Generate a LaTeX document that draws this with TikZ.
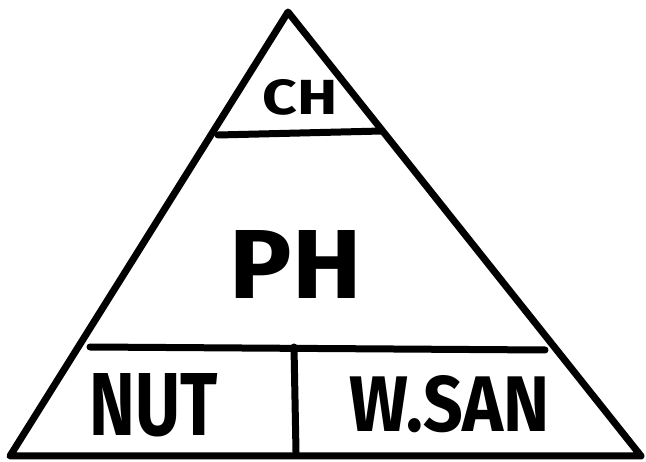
\documentclass[tikz,border=0pt]{standalone}
\usepackage{fontspec}
\setmainfont{Fira Sans}
\begin{document}
\begin{tikzpicture}[x=1pt,y=-1pt,
  stroke/.style={line width=7pt,line cap=round,line join=round},
  lbl/.style={inner sep=0pt,font=\bfseries}]
\useasboundingbox (0,0) rectangle (646,462);
\coordinate (apex) at (288,12);
\coordinate (bl) at (10,456);
\coordinate (br) at (641,456);
\coordinate (tl) at (218,135);
\coordinate (tr) at (382,131);
\coordinate (ml) at (90,347);
\coordinate (mr) at (545,350);
\coordinate (mt) at (294,347);
\coordinate (mb) at (296,452);
\draw[stroke] (apex) -- (bl) -- (br) -- cycle;
\draw[stroke] (tl) -- (tr);
\draw[stroke] (ml) -- (mr);
\draw[stroke] (mt) -- (mb);
\node[lbl] (ch) at (300,97) {\resizebox{75pt}{35pt}{CH}};
\node[lbl] (ph) at (296,265) {\resizebox{132pt}{68pt}{PH}};
\node[lbl] (nut) at (154,405) {\resizebox{128pt}{62pt}{NUT}};
\node[lbl] (wsan) at (450,404) {\resizebox{200pt}{56pt}{W.SAN}};
\end{tikzpicture}
\end{document}
